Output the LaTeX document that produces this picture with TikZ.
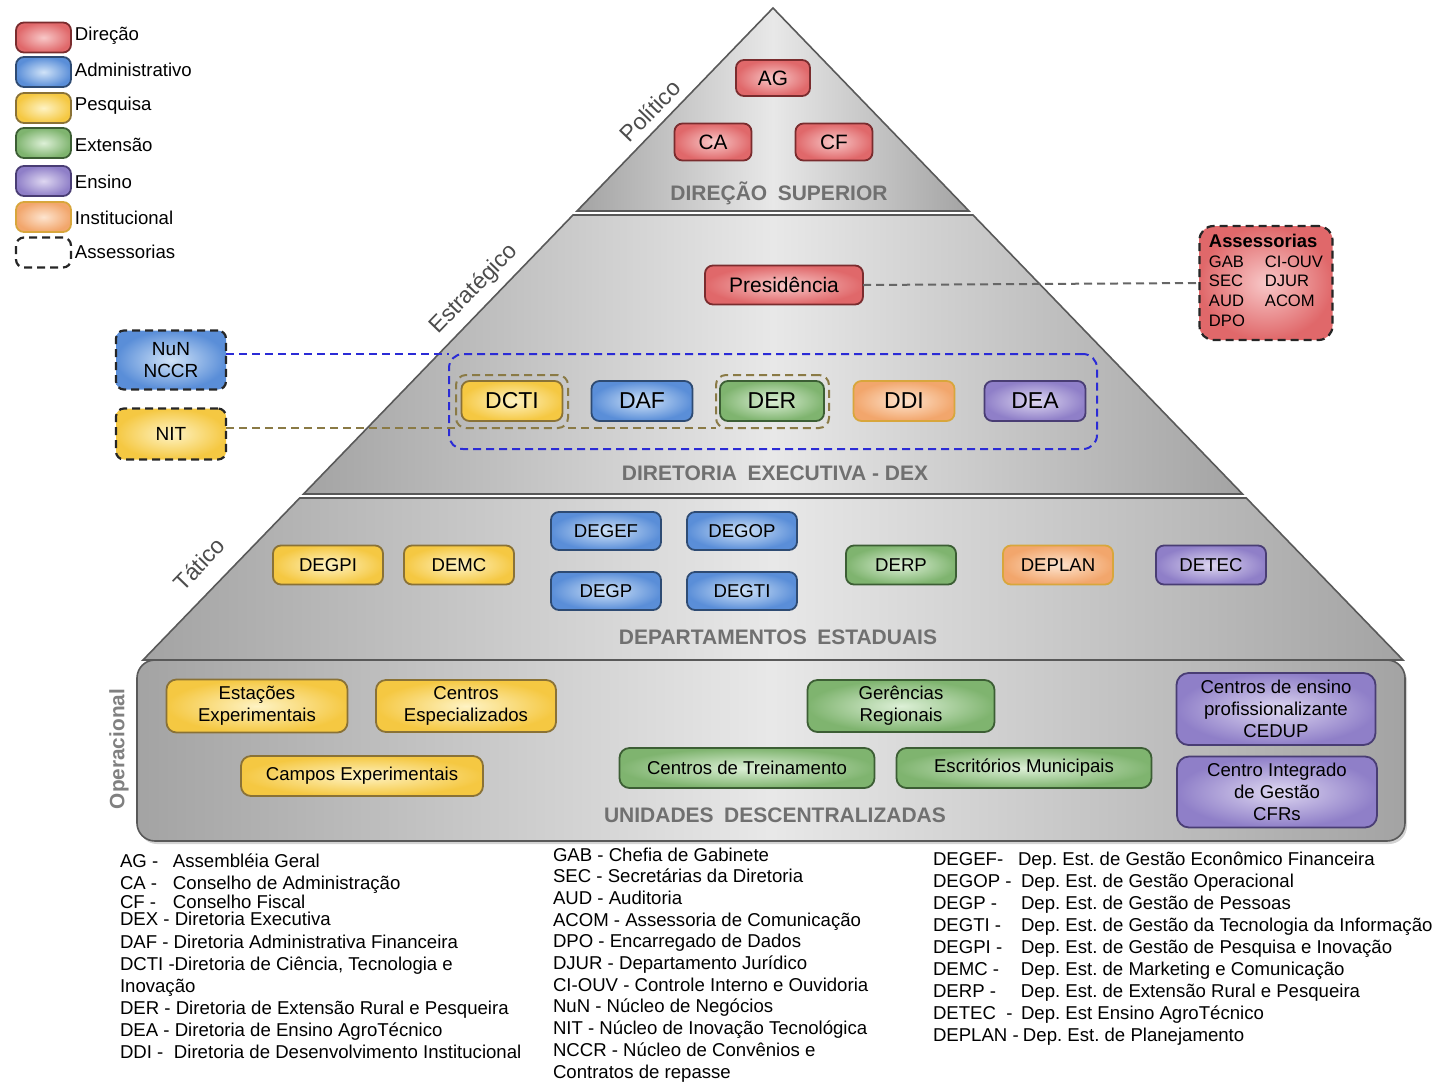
\documentclass[tikz,border=0pt]{standalone}
\usepackage{fontspec}
\setmainfont{Liberation Sans}
\usetikzlibrary{shadows}
\frenchspacing
\definecolor{redO}{HTML}{E0686A}\definecolor{redI}{HTML}{F8C8C8}\definecolor{redB}{HTML}{7A2C2E}
\definecolor{bluO}{HTML}{5A8ED8}\definecolor{bluI}{HTML}{D0E3F8}\definecolor{bluB}{HTML}{2E4B73}
\definecolor{yelO}{HTML}{F5C842}\definecolor{yelI}{HTML}{FEF3C4}\definecolor{yelB}{HTML}{8A7236}
\definecolor{grnO}{HTML}{7FB46F}\definecolor{grnI}{HTML}{DDF0D7}\definecolor{grnB}{HTML}{3C5E34}
\definecolor{purO}{HTML}{8F7FC8}\definecolor{purI}{HTML}{DED7F1}\definecolor{purB}{HTML}{493D74}
\definecolor{orgO}{HTML}{F2A66C}\definecolor{orgI}{HTML}{FDE4CF}\definecolor{orgB}{HTML}{D8A63C}
\definecolor{titleG}{HTML}{707070}
\definecolor{dexblue}{HTML}{2B2BD6}
\definecolor{olivedash}{HTML}{8A7A45}
\begin{document}
\begin{tikzpicture}[x=0.5pt,y=-0.5pt,
  every node/.style={inner sep=0pt,outer sep=0pt},
  layer/.style={draw=black!65,line width=0.8pt,left color=black!36,right color=black!36,middle color=black!9},
  base/.style={draw,rounded corners=4pt,line width=0.9pt,align=center,text=black,font=\fontsize{9.3}{11}\selectfont},
  dirbox/.style={base,draw=redB,inner color=redI,outer color=redO},
  admbox/.style={base,draw=bluB,inner color=bluI,outer color=bluO},
  pesbox/.style={base,draw=yelB,inner color=yelI,outer color=yelO},
  extbox/.style={base,draw=grnB,inner color=grnI,outer color=grnO},
  ensbox/.style={base,draw=purB,inner color=purI,outer color=purO},
  insbox/.style={base,draw=orgB,inner color=orgI,outer color=orgO},
  assline/.style={draw=black!85,dashed,dash pattern=on 4pt off 2.5pt,line width=1.1pt},
  legbox/.style={minimum width=27.5pt,minimum height=15pt,rounded corners=4pt},
  legtxt/.style={anchor=west,font=\fontsize{9.3}{11}\selectfont},
  ttl/.style={font=\fontsize{10.5}{12}\selectfont\bfseries,text=titleG},
  lvl/.style={font=\fontsize{11.5}{13}\selectfont,text=black!70},
  dexsize/.style={minimum width=50.5pt,minimum height=20pt,font=\fontsize{11.5}{13}\selectfont},
  tacsize/.style={minimum width=55pt,minimum height=19.5pt},
  lst/.style={anchor=base west,font=\fontsize{9.3}{11}\selectfont},
  bluedash/.style={draw=dexblue,line width=1pt,dash pattern=on 4pt off 2.5pt},
  olvdash/.style={draw=olivedash,line width=1pt,dash pattern=on 4pt off 2.5pt},
  greydash/.style={draw=black!60,line width=1pt,dash pattern=on 4pt off 2.5pt}
]
\useasboundingbox (0,0) rectangle (1437,1084);

% ---------- pyramid layers ----------
\path[layer] (773,8) -- (969,211) -- (577,211) -- cycle;
\path[layer] (573,215) -- (973,215) -- (1242.5,494) -- (303.5,494) -- cycle;
\path[layer] (299.7,498) -- (1246.3,498) -- (1403,660) -- (143,660) -- cycle;
\path[layer,rounded corners=9pt,drop shadow={opacity=0.35,shadow xshift=1pt,shadow yshift=-1.5pt}] (137,660) rectangle (1405,841);

% ---------- legend ----------
\node[dirbox,legbox] (lg1) at (43.5,37.5) {};
\node[admbox,legbox] (lg2) at (43.5,72) {};
\node[pesbox,legbox] (lg3) at (43.5,108) {};
\node[extbox,legbox] (lg4) at (43.5,143) {};
\node[ensbox,legbox] (lg5) at (43.5,181) {};
\node[insbox,legbox] (lg6) at (43.5,217) {};
\node[legbox,assline,fill=white] (lg7) at (43.5,252.5) {};
\node[legtxt] (lt1) at (75,36) {Direção};
\node[legtxt] (lt2) at (75,70) {Administrativo};
\node[legtxt] (lt3) at (75,106) {Pesquisa};
\node[legtxt] (lt4) at (75,145) {Extensão};
\node[legtxt] (lt5) at (75,182) {Ensino};
\node[legtxt] (lt6) at (75,218) {Institucional};
\node[legtxt] (lt7) at (75,252) {Assessorias};

% ---------- level labels ----------
\node[lvl,rotate=46] (lvp) at (650,111) {Político};
\node[lvl,rotate=46] (lve) at (474,289) {Estratégico};
\node[lvl,rotate=46] (lvt) at (199,564) {Tático};
\node[font=\fontsize{10.4}{12}\selectfont\bfseries,text=black!50,rotate=90] (lvo) at (119,749) {Operacional};

% ---------- Direção superior ----------
\node[dirbox,minimum width=37pt,minimum height=18pt,font=\fontsize{10.4}{12}\selectfont] (ag) at (773,78) {AG};
\node[dirbox,minimum width=38.5pt,minimum height=18.5pt,font=\fontsize{10.4}{12}\selectfont] (ca) at (713,142) {CA};
\node[dirbox,minimum width=38.5pt,minimum height=18.5pt,font=\fontsize{10.4}{12}\selectfont] (cf) at (834,142) {CF};
\node[ttl] (t1) at (779,193) {DIREÇÃO\enspace SUPERIOR};

% ---------- Estratégico ----------
\node[dirbox,minimum width=79pt,minimum height=19.5pt,font=\fontsize{10.5}{12}\selectfont] (pres) at (784,285) {Presidência};
\node[assline,rounded corners=7pt,inner color=redI,outer color=redO,minimum width=66.5pt,minimum height=57pt] (ass) at (1266,283)
  {\fontsize{8.3}{9.8}\selectfont\begin{tabular}{@{}l@{\hspace{10pt}}l@{}}\multicolumn{2}{@{}l@{}}{\fontsize{9.2}{10}\selectfont\bfseries Assessorias}\\ GAB & CI-OUV\\ SEC & DJUR\\ AUD & ACOM\\ DPO & \end{tabular}};
\draw[greydash] (pres.east) -- (ass.west);

\node[admbox,assline,minimum width=55pt,minimum height=29.5pt,font=\fontsize{9.5}{11}\selectfont] (nun) at (171,360) {NuN\\NCCR};
\node[pesbox,assline,minimum width=55pt,minimum height=25.5pt,font=\fontsize{9.5}{11}\selectfont] (nit) at (171,434) {NIT};

\node[bluedash,rounded corners=7pt,minimum width=324pt,minimum height=47.5pt] (dex) at (773,401.5) {};
\node[olvdash,rounded corners=5pt,minimum width=56pt,minimum height=26.5pt] (dctib) at (512,401.5) {};
\node[olvdash,rounded corners=5pt,minimum width=56.5pt,minimum height=26.5pt] (derb) at (772.5,401.5) {};
\node[pesbox,dexsize] (dcti) at (512,401) {DCTI};
\node[admbox,dexsize] (daf) at (642,401) {DAF};
\node[extbox,dexsize,minimum width=52pt] (der) at (772,401) {DER};
\node[insbox,dexsize] (ddi) at (904,401) {DDI};
\node[ensbox,dexsize] (dea) at (1035,401) {DEA};
\draw[bluedash] (nun.east |- dex.north) -- (dex.north west);
\draw[olvdash] (nit.east |- dctib.south) -- (dctib.south west);
\draw[olvdash] (dctib.south east) -- (derb.south west);
\node[ttl] (t2) at (775,473) {DIRETORIA\enspace EXECUTIVA - DEX};

% ---------- Tático ----------
\node[pesbox,tacsize] (degpi) at (328,565) {DEGPI};
\node[pesbox,tacsize] (demc) at (459,565) {DEMC};
\node[admbox,tacsize,minimum height=19pt] (degef) at (606,531) {DEGEF};
\node[admbox,tacsize,minimum height=19pt] (degop) at (742,531) {DEGOP};
\node[admbox,tacsize,minimum height=19pt] (degp) at (606,591) {DEGP};
\node[admbox,tacsize,minimum height=19pt] (degti) at (742,591) {DEGTI};
\node[extbox,tacsize] (derp) at (901,565) {DERP};
\node[insbox,tacsize] (deplan) at (1058,565) {DEPLAN};
\node[ensbox,tacsize] (detec) at (1211,565) {DETEC};
\node[ttl] (t3) at (778,637) {DEPARTAMENTOS\enspace ESTADUAIS};

% ---------- Operacional ----------
\node[pesbox,rounded corners=5pt,minimum width=90.5pt,minimum height=26.5pt] (estexp) at (257,706) {Estações\\Experimentais};
\node[pesbox,rounded corners=5pt,minimum width=90pt,minimum height=26pt] (cesp) at (466,706) {Centros\\Especializados};
\node[pesbox,rounded corners=5pt,minimum width=121pt,minimum height=20pt] (campos) at (362,776) {Campos Experimentais};
\node[extbox,rounded corners=5pt,minimum width=93.5pt,minimum height=26pt] (ger) at (901,706) {Gerências\\Regionais};
\node[extbox,rounded corners=5pt,minimum width=127.5pt,minimum height=20pt] (ctrein) at (747,768) {Centros de Treinamento};
\node[extbox,rounded corners=5pt,minimum width=127.5pt,minimum height=20pt] (escr) at (1024,768) {Escritórios Municipais};
\node[ensbox,rounded corners=6pt,minimum width=99.5pt,minimum height=36pt] (cedup) at (1276,709) {Centros de ensino\\profissionalizante\\CEDUP};
\node[ensbox,rounded corners=6pt,minimum width=100pt,minimum height=35.5pt] (cfr) at (1277,792) {Centro Integrado\\de Gestão\\CFRs};
\node[ttl] (t4) at (775,815) {UNIDADES\enspace DESCENTRALIZADAS};

% ---------- lists ----------
\node[lst] (a1) at (120,867) {\makebox[26.5pt][l]{AG -}Assembléia Geral};
\node[lst] (a2) at (120,889) {\makebox[26.5pt][l]{CA -}Conselho de Administração};
\node[lst] (a3) at (120,908) {\makebox[26.5pt][l]{CF -}Conselho Fiscal};
\node[lst] (a4) at (120,925) {DEX - Diretoria Executiva};
\node[lst] (a5) at (120,948) {DAF - Diretoria Administrativa Financeira};
\node[lst] (a6) at (120,970) {DCTI -Diretoria de Ciência, Tecnologia e};
\node[lst] (a7) at (120,992) {Inovação};
\node[lst] (a8) at (120,1014) {DER - Diretoria de Extensão Rural e Pesqueira};
\node[lst] (a9) at (120,1036) {DEA - Diretoria de Ensino AgroTécnico};
\node[lst] (a10) at (120,1058) {\makebox[27pt][l]{DDI -}Diretoria de Desenvolvimento Institucional};

\node[lst] (b1) at (553,861) {GAB - Chefia de Gabinete};
\node[lst] (b2) at (553,882.7) {SEC - Secretárias da Diretoria};
\node[lst] (b3) at (553,904.4) {AUD - Auditoria};
\node[lst] (b4) at (553,926.1) {ACOM - Assessoria de Comunicação};
\node[lst] (b5) at (553,947.8) {DPO - Encarregado de Dados};
\node[lst] (b6) at (553,969.5) {DJUR - Departamento Jurídico};
\node[lst] (b7) at (553,991.2) {CI-OUV - Controle Interno e Ouvidoria};
\node[lst] (b8) at (553,1012.9) {NuN - Núcleo de Negócios};
\node[lst] (b9) at (553,1034.6) {NIT - Núcleo de Inovação Tecnológica};
\node[lst] (b10) at (553,1056.3) {NCCR - Núcleo de Convênios e};
\node[lst] (b11) at (553,1078) {Contratos de repasse};

\node[lst] (c1) at (933,865) {\makebox[42.5pt][l]{DEGEF-}Dep. Est. de Gestão Econômico Financeira};
\node[lst] (c2) at (933,887) {\makebox[44pt][l]{DEGOP -}Dep. Est. de Gestão Operacional};
\node[lst] (c3) at (933,909) {\makebox[44pt][l]{DEGP -}Dep. Est. de Gestão de Pessoas};
\node[lst] (c4) at (933,931) {\makebox[44pt][l]{DEGTI -}Dep. Est. de Gestão da Tecnologia da Informação};
\node[lst] (c5) at (933,953) {\makebox[44pt][l]{DEGPI -}Dep. Est. de Gestão de Pesquisa e Inovação};
\node[lst] (c6) at (933,975) {\makebox[44pt][l]{DEMC -}Dep. Est. de Marketing e Comunicação};
\node[lst] (c7) at (933,997) {\makebox[44pt][l]{DERP -}Dep. Est. de Extensão Rural e Pesqueira};
\node[lst] (c8) at (933,1019) {\makebox[44pt][l]{DETEC \ -}Dep. Est Ensino AgroTécnico};
\node[lst] (c9) at (933,1041) {\makebox[45pt][l]{DEPLAN -}Dep. Est. de Planejamento};
\end{tikzpicture}
\end{document}
